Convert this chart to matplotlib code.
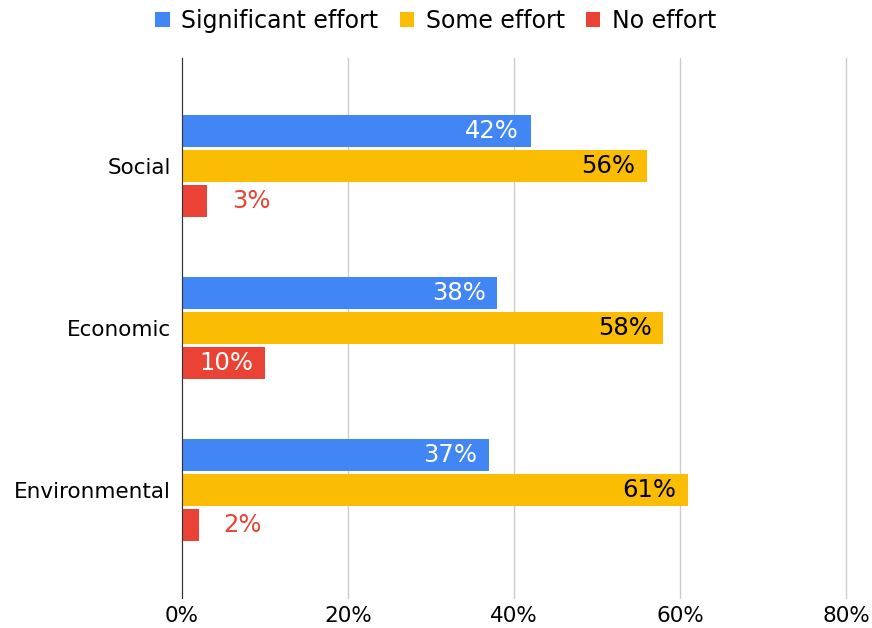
import numpy as np
import matplotlib.pyplot as plt
from matplotlib.ticker import PercentFormatter

categories = ['Social', 'Economic', 'Environmental']
series = ['Significant effort', 'Some effort', 'No effort']
significant = [42, 38, 37]
some = [56, 58, 61]
none_ = [3, 10, 2]
colors = ['#4285F4', '#FBBC04', '#EA4335']

fig = plt.figure(figsize=(8.72, 6.28), dpi=100)
ax = fig.add_axes([182 / 872, 30 / 628, 664 / 872, 540 / 628])

y = np.arange(len(categories))
h = 0.198
step = 0.216
values = [significant, some, none_]
for i, (name, vals, c) in enumerate(zip(series, values, colors)):
    off = (i - 1) * step
    bars = ax.barh(y + off, vals, height=h, color=c, label=name, zorder=3)
    for b, v in zip(bars, vals):
        yc = b.get_y() + b.get_height() / 2
        if v < 5:
            ax.text(v + 3, yc, f'{v}%', va='center', ha='left',
                    fontsize=17.5, color=c, zorder=4)
        else:
            tc = 'black' if i == 1 else 'white'
            ax.text(v - 1.4, yc, f'{v}%', va='center', ha='right',
                    fontsize=17.5, color=tc, zorder=4)

ax.set_xlim(0, 80)
ax.set_ylim(len(categories) - 1 + 0.67, -0.67)
ax.set_xticks([0, 20, 40, 60, 80])
ax.xaxis.set_major_formatter(PercentFormatter(decimals=0))
ax.set_yticks(y)
ax.set_yticklabels(categories)
ax.tick_params(axis='both', length=0, labelsize=15.5)
ax.tick_params(axis='y', pad=8)
ax.tick_params(axis='x', pad=6)
ax.grid(axis='x', color='#cccccc', linewidth=1, zorder=0)
for gl in ax.get_xgridlines():
    gl.set_clip_on(False)
for s in ['top', 'right', 'bottom']:
    ax.spines[s].set_visible(False)
ax.spines['left'].set_color('#333333')
ax.spines['left'].set_zorder(5)

fig.legend(loc='upper center', bbox_to_anchor=(0.5, 1.02), ncol=3,
           frameon=False, fontsize=17, handlelength=0.6, handleheight=0.6,
           handletextpad=0.5, columnspacing=0.9)

fig.savefig('out.png', dpi=100)
